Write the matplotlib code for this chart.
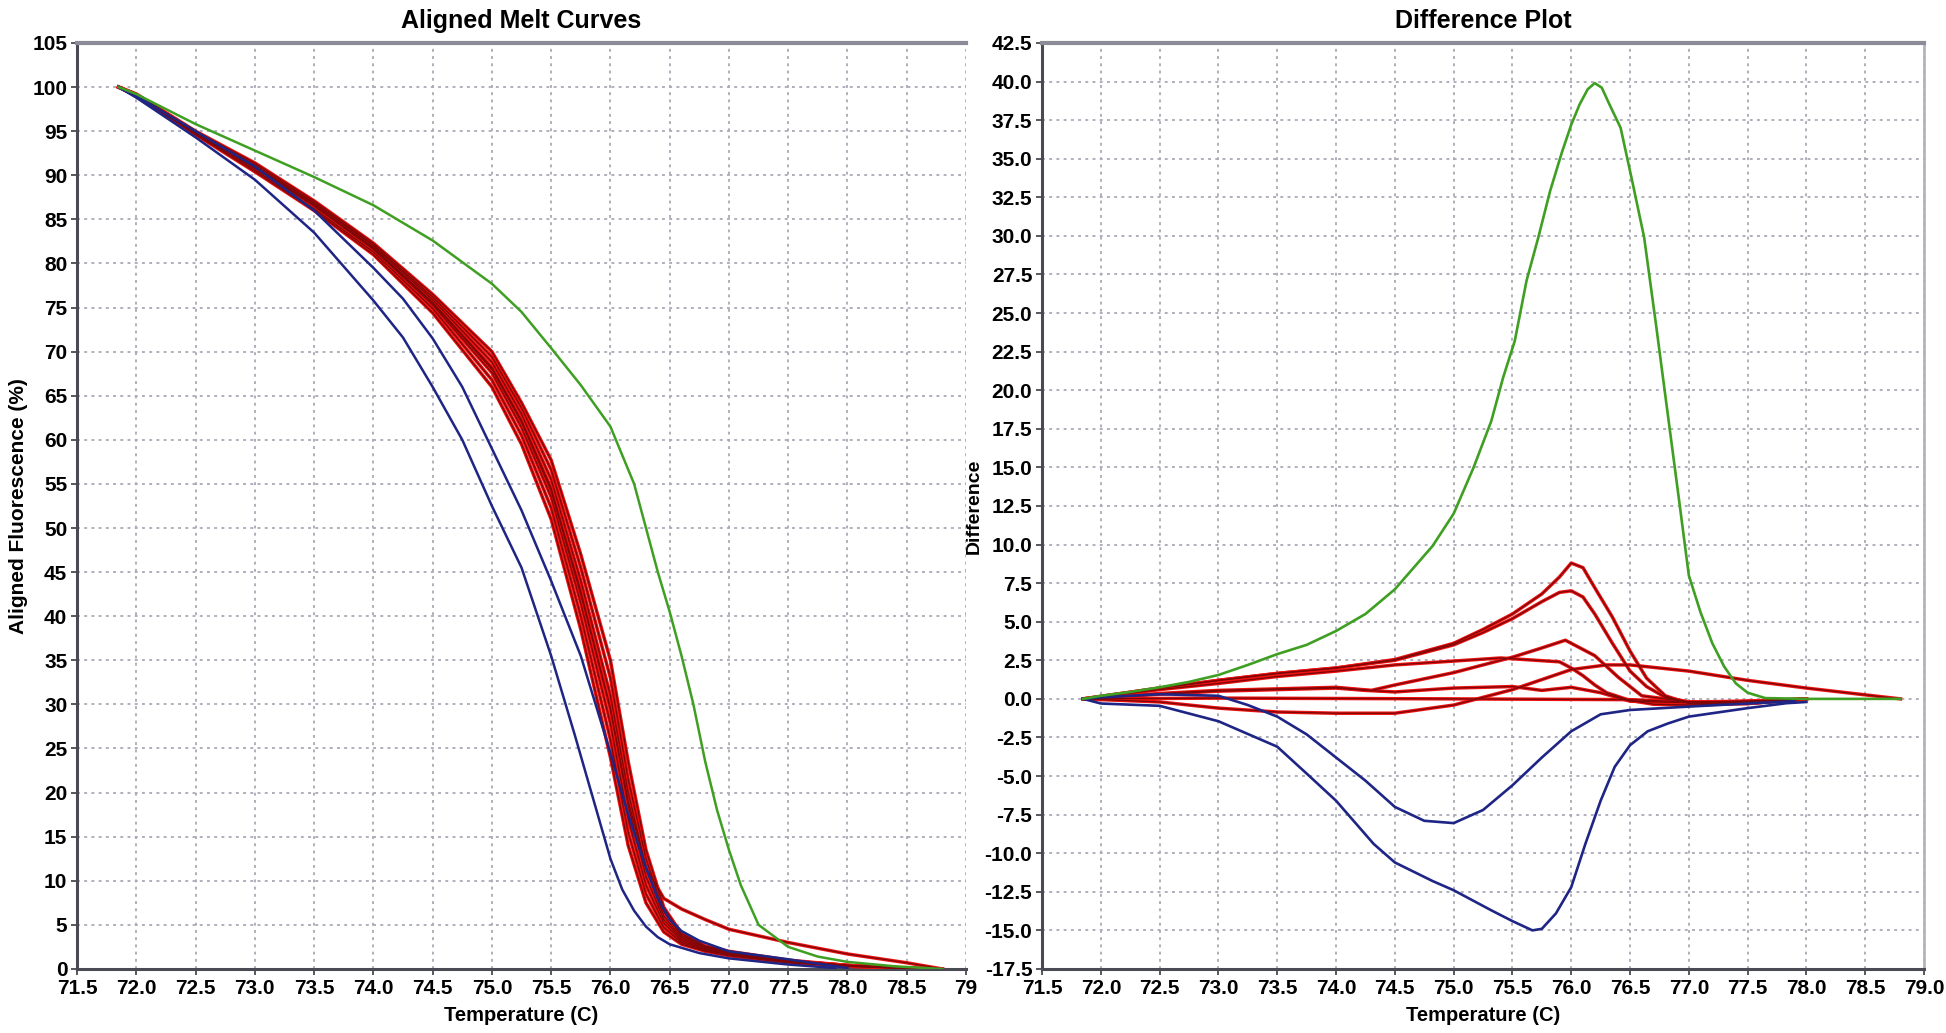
import matplotlib
matplotlib.use('Agg')
import matplotlib.pyplot as plt

plt.rcParams['font.family'] = ['Liberation Sans Narrow', 'Liberation Sans', 'DejaVu Sans']
plt.rcParams['axes.unicode_minus'] = False

# ---------------- Aligned melt curves (left) ----------------
green_T = [71.85, 72.0, 72.5, 73.0, 73.5, 74.0, 74.5, 75.0, 75.25, 75.5, 75.75, 76.0, 76.2, 76.3,
           76.4, 76.5, 76.6, 76.7, 76.8, 76.9, 77.0, 77.1, 77.25, 77.5, 77.75, 78.0, 78.4, 78.8]
green_F = [100, 99.2, 95.8, 92.8, 89.8, 86.6, 82.6, 77.7, 74.5, 70.4, 66.2, 61.5, 55.0, 50.0,
           45.0, 40.5, 35.5, 30.0, 23.5, 18.0, 13.5, 9.5, 5.0, 2.5, 1.4, 0.8, 0.3, 0.0]

blue1_T = [71.85, 72.0, 72.5, 73.0, 73.5, 74.0, 74.25, 74.5, 74.75, 75.0, 75.25, 75.5, 75.7,
           75.85, 76.0, 76.1, 76.2, 76.3, 76.4, 76.5, 76.75, 77.0, 77.5, 77.9]
blue1_F = [100, 98.8, 94.3, 89.5, 83.5, 75.8, 71.6, 66.0, 60.0, 52.5, 45.5, 35.5, 26.5,
           19.5, 12.5, 9.0, 6.6, 4.8, 3.6, 2.8, 1.8, 1.2, 0.5, 0.1]

blue2_T = [71.85, 72.0, 72.5, 73.0, 73.5, 74.0, 74.25, 74.5, 74.75, 75.0, 75.25, 75.5, 75.75,
           76.0, 76.15, 76.3, 76.4, 76.5, 76.6, 76.75, 77.0, 77.5, 77.8, 78.0]
blue2_F = [100, 99.0, 95.0, 91.0, 86.0, 79.5, 76.0, 71.5, 66.0, 59.0, 52.0, 44.0, 35.5,
           24.5, 17.5, 11.5, 8.0, 5.6, 4.3, 3.2, 2.0, 1.1, 0.5, 0.1]

red_T = [71.85, 72.0, 72.5, 73.0, 73.5, 74.0, 74.5, 75.0, 75.25, 75.5, 75.75, 76.0, 76.15,
         76.3, 76.45, 76.6, 76.8, 77.0, 77.5, 78.0, 78.5, 78.8]
red1_F = [100, 99.0, 94.6, 90.4, 86.0, 81.0, 74.4, 66.0, 59.5, 51.0, 38.5, 24.0, 14.0, 7.5, 4.2, 2.8, 2.0, 1.5, 0.7, 0.3, 0.05, 0]
red2_F = [100, 99.0, 94.7, 90.6, 86.2, 81.3, 74.9, 66.8, 60.5, 52.3, 40.0, 26.0, 15.5, 8.5, 4.7, 3.0, 2.1, 1.6, 0.8, 0.35, 0.05, 0]
red3_F = [100, 99.1, 94.8, 90.8, 86.5, 81.6, 75.3, 67.6, 61.4, 53.5, 41.5, 27.8, 17.0, 9.5, 5.2, 3.2, 2.2, 1.7, 0.8, 0.35, 0.05, 0]
red4_F = [100, 99.1, 94.8, 90.9, 86.6, 81.8, 75.6, 68.2, 62.2, 54.5, 42.8, 29.5, 18.5, 10.5, 5.6, 3.4, 2.3, 1.8, 0.9, 0.4, 0.1, 0]
red5_F = [100, 99.1, 94.9, 91.0, 86.8, 82.0, 75.9, 68.8, 62.9, 55.5, 44.0, 31.0, 20.0, 11.5, 6.0, 3.6, 2.4, 1.8, 0.9, 0.4, 0.1, 0]
red6_F = [100, 99.2, 94.9, 91.2, 86.9, 82.1, 76.2, 69.4, 63.6, 56.6, 45.5, 33.0, 21.5, 12.5, 6.5, 3.8, 2.5, 1.9, 0.9, 0.4, 0.1, 0]
red7_F = [100, 99.2, 95.0, 91.4, 87.1, 82.3, 76.5, 70.0, 64.2, 57.7, 47.0, 35.0, 23.5, 13.5, 7.0, 4.0, 2.6, 2.0, 1.0, 0.4, 0.1, 0]
red8_F = [100, 99.1, 94.8, 90.9, 86.6, 81.7, 75.5, 68.0, 62.0, 54.2, 42.5, 29.5, 19.0, 11.5, 8.0, 6.8, 5.6, 4.5, 3.0, 1.7, 0.7, 0]

# ---------------- Difference plot (right) ----------------
gdiff_T = [71.85, 72.0, 72.25, 72.5, 72.75, 73.0, 73.25, 73.5, 73.75, 74.0, 74.25, 74.5, 74.82,
           75.0, 75.17, 75.32, 75.42, 75.52, 75.62, 75.72, 75.82, 75.92, 76.0, 76.07, 76.14, 76.2,
           76.26, 76.32, 76.42, 76.52, 76.62, 76.72, 76.82, 76.92, 77.0, 77.1, 77.2, 77.3, 77.4,
           77.5, 77.65, 78.0, 78.5, 78.8]
gdiff_V = [0, 0.2, 0.45, 0.75, 1.1, 1.55, 2.2, 2.9, 3.5, 4.4, 5.5, 7.1, 9.9,
           12.0, 15.0, 18.0, 20.8, 23.2, 27.1, 29.9, 32.9, 35.4, 37.2, 38.5, 39.5, 39.9,
           39.6, 38.6, 37.0, 33.5, 29.9, 24.3, 18.5, 12.7, 8.0, 5.6, 3.6, 2.1, 1.0,
           0.4, 0.05, 0.0, 0.0, 0.0]

bdiff1_T = [71.85, 72.0, 72.5, 73.0, 73.25, 73.5, 73.75, 74.0, 74.25, 74.5, 74.75, 75.0, 75.25,
            75.5, 75.75, 76.0, 76.25, 76.5, 77.0, 77.5, 77.9]
bdiff1_V = [0, 0.1, 0.3, 0.2, -0.4, -1.15, -2.3, -3.8, -5.3, -7.0, -7.9, -8.05, -7.2,
            -5.6, -3.8, -2.1, -1.0, -0.72, -0.5, -0.3, -0.15]

bdiff2_T = [71.85, 72.0, 72.5, 73.0, 73.5, 73.77, 74.0, 74.32, 74.5, 74.82, 75.0, 75.32, 75.5,
            75.67, 75.75, 75.87, 76.0, 76.12, 76.25, 76.37, 76.5, 76.65, 76.82, 77.0, 77.5,
            77.83, 78.0]
bdiff2_V = [0, -0.3, -0.45, -1.45, -3.1, -4.98, -6.6, -9.4, -10.6, -11.8, -12.4, -13.7, -14.4,
            -15.0, -14.9, -13.9, -12.2, -9.4, -6.6, -4.4, -3.0, -2.1, -1.6, -1.15, -0.6,
            -0.28, -0.2]

rdiffA_T = [71.85, 72.5, 73.0, 73.5, 74.0, 74.5, 75.0, 75.25, 75.5, 75.75, 75.9, 76.0, 76.1,
            76.2, 76.35, 76.5, 76.64, 76.8, 77.0, 77.5, 78.0]
rdiffA_V = [0, 0.7, 1.2, 1.65, 2.0, 2.55, 3.6, 4.5, 5.5, 6.8, 7.9, 8.8, 8.5,
            7.2, 5.3, 3.1, 1.35, 0.2, -0.3, -0.3, 0]
rdiffB_V = [0, 0.7, 1.2, 1.65, 2.0, 2.5, 3.5, 4.3, 5.2, 6.3, 6.9, 7.0, 6.6,
            5.5, 3.6, 1.8, 0.8, 0.1, -0.2, -0.3, 0]

rdiffC_T = [71.85, 72.5, 73.0, 73.5, 74.0, 74.3, 74.5, 75.0, 75.5, 75.75, 75.95, 76.2, 76.4,
            76.6, 77.0, 77.5, 78.0]
rdiffC_V = [0, 0.35, 0.55, 0.65, 0.75, 0.55, 0.9, 1.7, 2.7, 3.3, 3.8, 2.8, 1.4,
            0.2, -0.2, -0.2, 0]

rdiffD_T = [71.85, 72.5, 73.0, 73.5, 74.0, 74.5, 75.0, 75.4, 75.9, 76.0, 76.1, 76.2, 76.3,
            76.5, 76.7, 77.0, 77.5, 78.0]
rdiffD_V = [0, 0.6, 1.0, 1.45, 1.8, 2.2, 2.45, 2.65, 2.4, 2.0, 1.5, 0.9, 0.4,
            -0.1, -0.35, -0.4, -0.3, 0]

rdiffE_T = [71.85, 72.5, 73.0, 73.5, 74.0, 74.5, 75.0, 75.5, 76.0, 76.3, 76.5, 77.0, 77.5,
            78.0, 78.5, 78.8]
rdiffE_V = [0, -0.2, -0.6, -0.85, -0.93, -0.93, -0.4, 0.6, 1.9, 2.2, 2.2, 1.8, 1.2,
            0.7, 0.26, 0]

rdiffF_T = [71.85, 72.5, 73.0, 73.5, 74.0, 74.25, 74.5, 75.0, 75.5, 75.75, 76.0, 76.25, 76.5,
            77.0, 77.5, 78.0]
rdiffF_V = [0, 0.3, 0.5, 0.6, 0.7, 0.55, 0.45, 0.7, 0.8, 0.55, 0.75, 0.4, -0.15,
            -0.25, -0.15, 0]

rdiffG_T = [71.85, 73.0, 75.0, 76.5, 77.0, 77.5, 78.0]
rdiffG_V = [0, 0.05, 0.0, -0.05, -0.2, -0.15, 0]

x_ticks = [71.5, 72.0, 72.5, 73.0, 73.5, 74.0, 74.5, 75.0, 75.5, 76.0, 76.5, 77.0, 77.5, 78.0, 78.5, 79.0]
left_xlabels = ['71.5', '72.0', '72.5', '73.0', '73.5', '74.0', '74.5', '75.0', '75.5', '76.0',
                '76.5', '77.0', '77.5', '78.0', '78.5', '79']
right_xlabels = ['71.5', '72.0', '72.5', '73.0', '73.5', '74.0', '74.5', '75.0', '75.5', '76.0',
                 '76.5', '77.0', '77.5', '78.0', '78.5', '79.0']
left_yticks = list(range(0, 106, 5))
right_yticks = [-17.5, -15.0, -12.5, -10.0, -7.5, -5.0, -2.5, 0.0, 2.5, 5.0, 7.5, 10.0, 12.5, 15.0,
                17.5, 20.0, 22.5, 25.0, 27.5, 30.0, 32.5, 35.0, 37.5, 40.0, 42.5]

GREEN = '#3f9f22'
BLUE = '#1e2584'
RED_EDGE = '#ee1111'
RED_CORE = '#7e0606'

fig = plt.figure(figsize=(19.46, 10.33), dpi=100)
ax1 = fig.add_axes([0.0396, 0.062, 0.4568, 0.8964])
ax2 = fig.add_axes([0.5355, 0.062, 0.4532, 0.8964])


def style(ax, yticks, ylabels, xlabels, right_spine):
    ax.set_xlim(71.5, 79.0)
    ax.set_xticks(x_ticks)
    ax.set_xticklabels(xlabels)
    ax.set_yticks(yticks)
    ax.set_yticklabels(ylabels)
    ax.set_ylim(yticks[0], yticks[-1])
    ax.grid(True, color='#a9a9b8', linestyle=(0, (1.6, 2.4)), linewidth=1.3)
    ax.set_axisbelow(True)
    for s in ['left', 'bottom']:
        ax.spines[s].set_color('#4a4a55')
        ax.spines[s].set_linewidth(2.2)
    ax.spines['top'].set_color('#8c8c99')
    ax.spines['top'].set_linewidth(3.0)
    if right_spine:
        ax.spines['right'].set_color('#b4b4bd')
        ax.spines['right'].set_linewidth(2.0)
    else:
        ax.spines['right'].set_visible(False)
    ax.tick_params(direction='out', length=4, width=1.3, color='#4a4a55',
                   labelsize=15, labelcolor='black', pad=3)
    for lab in ax.get_xticklabels() + ax.get_yticklabels():
        lab.set_fontweight('bold')


def red(ax, x, y):
    ax.plot(x, y, color=RED_EDGE, lw=2.5, zorder=3, solid_joinstyle='round')
    ax.plot(x, y, color=RED_CORE, lw=0.95, zorder=4, solid_joinstyle='round')


# left panel
for F in [red1_F, red2_F, red3_F, red4_F, red5_F, red6_F, red7_F, red8_F]:
    red(ax1, red_T, F)
ax1.plot(blue1_T, blue1_F, color=BLUE, lw=1.8, zorder=5)
ax1.plot(blue2_T, blue2_F, color=BLUE, lw=1.8, zorder=5)
ax1.plot(green_T, green_F, color=GREEN, lw=1.8, zorder=6)
style(ax1, left_yticks, [str(v) for v in left_yticks], left_xlabels, False)
ax1.set_title('Aligned Melt Curves', fontsize=18, fontweight='bold', pad=11)
ax1.set_ylabel('Aligned Fluorescence (%)', fontsize=15, fontweight='bold', labelpad=3)
ax1.set_xlabel('Temperature (C)', fontsize=14.5, fontweight='bold', labelpad=6)

# right panel
red(ax2, rdiffG_T, rdiffG_V)
red(ax2, rdiffF_T, rdiffF_V)
red(ax2, rdiffE_T, rdiffE_V)
red(ax2, rdiffD_T, rdiffD_V)
red(ax2, rdiffC_T, rdiffC_V)
red(ax2, rdiffA_T, rdiffB_V)
red(ax2, rdiffA_T, rdiffA_V)
ax2.plot(bdiff1_T, bdiff1_V, color=BLUE, lw=1.9, zorder=5)
ax2.plot(bdiff2_T, bdiff2_V, color=BLUE, lw=1.9, zorder=5)
ax2.plot(gdiff_T, gdiff_V, color=GREEN, lw=1.9, zorder=6)
style(ax2, right_yticks, ['%.1f' % v for v in right_yticks], right_xlabels, True)
ax2.set_title('Difference Plot', fontsize=18, fontweight='bold', pad=11)
ax2.set_ylabel('Difference', fontsize=14, fontweight='bold', labelpad=1)
ax2.set_xlabel('Temperature (C)', fontsize=14.5, fontweight='bold', labelpad=6)

fig.savefig('out.png', dpi=100, facecolor='white')
